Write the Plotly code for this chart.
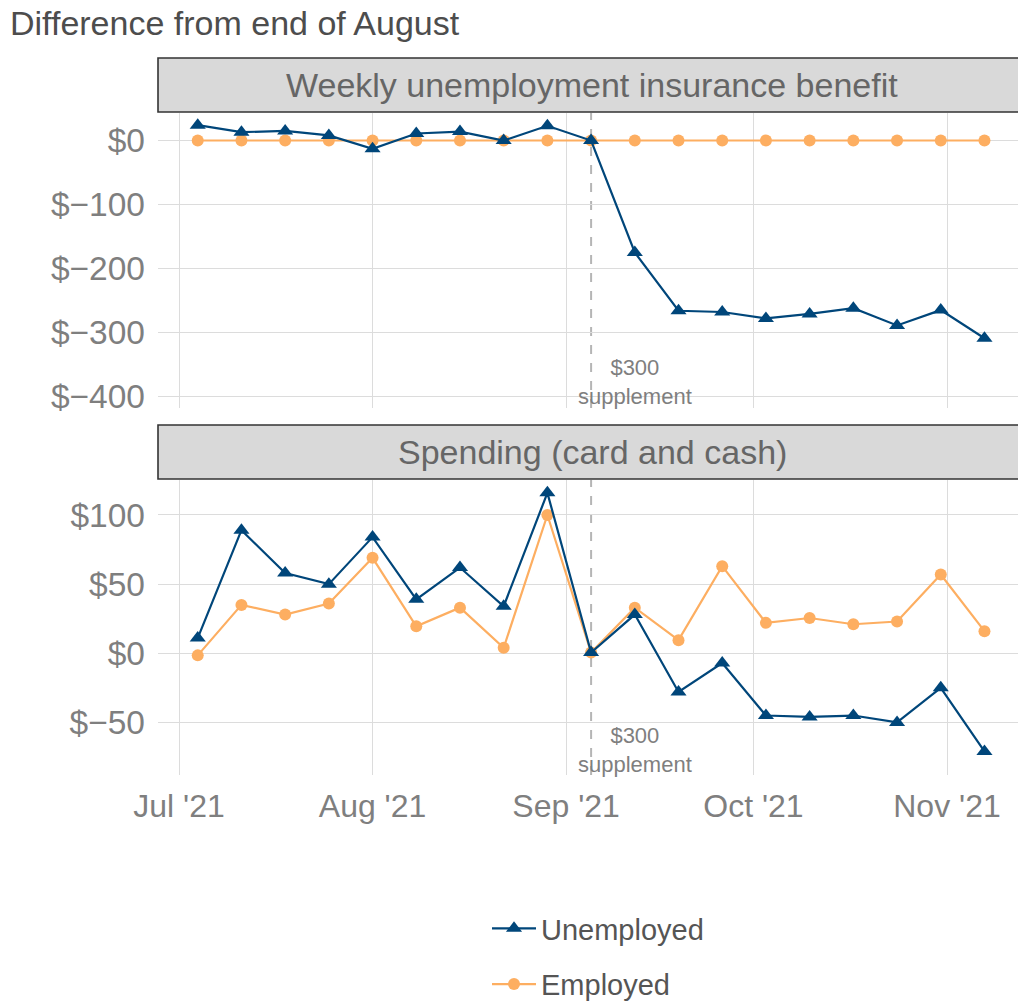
import pandas as pd
import plotly.graph_objects as go

# ---------------- data ----------------
weeks = pd.date_range("2021-07-04", periods=19, freq="7D")

benefit_unemployed = [24, 13, 15, 8, -13, 11, 14, 0, 23, 0,
                      -175, -266, -268, -278, -271, -262, -289, -265, -309]
benefit_employed = [0] * 19

spending_unemployed = [11, 89, 58, 50, 84, 39, 62, 34, 116, 0.5,
                       28, -28, -7, -45, -46, -45, -50, -25, -71]
spending_employed = [-1.5, 35, 28, 36, 69, 19.5, 33, 4, 100, 0.5,
                     33, 9.5, 63, 22, 25.5, 21, 23, 57, 16]

supplement_end = pd.Timestamp("2021-09-05")
panel_titles = ["Weekly unemployment insurance benefit", "Spending (card and cash)"]
series_names = ["Unemployed", "Employed"]

top_ticks = [0, -100, -200, -300, -400]
bottom_ticks = [100, 50, 0, -50]


def dollar(v):
    return "$" + (str(v) if v >= 0 else "\u2212" + str(-v))


# ---------------- style / geometry ----------------
BLUE = "#00467a"
ORANGE = "#fdae61"
FONT = "Liberation Sans, Arial, sans-serif"
GRID = "#dcdcdc"
W, H = 1018, 1002
L = 158                   # left margin
RIGHT_EDGE = 1026         # panel continues slightly past the picture edge
PW = W - L


def px_(x):
    return (x - L) / PW


def py(y):
    return 1 - y / H


fig = go.Figure()

panels = [
    ("y", "x", benefit_unemployed, benefit_employed),
    ("y2", "x2", spending_unemployed, spending_employed),
]
for i, (yax, xax, unemp, emp) in enumerate(panels):
    fig.add_trace(go.Scatter(
        x=weeks, y=emp, name=series_names[1], mode="lines+markers",
        line=dict(color=ORANGE, width=2.2),
        marker=dict(symbol="circle", size=12, color=ORANGE),
        xaxis=xax, yaxis=yax,
        legendgroup="emp", showlegend=(i == 0), legendrank=2))
    fig.add_trace(go.Scatter(
        x=weeks, y=unemp, name=series_names[0], mode="lines+markers",
        line=dict(color=BLUE, width=2.2),
        marker=dict(symbol="triangle-up", size=14, color=BLUE),
        xaxis=xax, yaxis=yax,
        legendgroup="unemp", showlegend=(i == 0), legendrank=1))

px_per_day = (947 - 179) / 123.0
x0 = pd.Timestamp("2021-07-01") - pd.Timedelta(days=(179 - L) / px_per_day)
x1 = x0 + pd.Timedelta(days=PW / px_per_day)

xcommon = dict(
    range=[x0, x1], type="date", tick0="2021-07-01", dtick="M1",
    tickformat="%b '%y", showgrid=True, gridcolor=GRID, gridwidth=1,
    zeroline=False, showline=False, ticks="", domain=[0, 1],
    tickfont=dict(family=FONT, size=32, color="#7f7f7f"),
)
ycommon = dict(showgrid=True, gridcolor=GRID, zeroline=False, showline=False,
               ticklabelstandoff=12, ticks="",
               tickfont=dict(family=FONT, size=33.5, color="#7f7f7f"))

fig.update_layout(
    width=W, height=H,
    margin=dict(l=L, r=0, t=0, b=0, autoexpand=False),
    paper_bgcolor="white", plot_bgcolor="white",
    font=dict(family=FONT),
    title=dict(text="Difference from end of August", x=10 / W, y=1 - 23 / H,
               xanchor="left", yanchor="middle", xref="container", yref="container",
               font=dict(family=FONT, size=34, color="#4d4d4d")),
    xaxis=dict(**xcommon, anchor="y", showticklabels=False, matches="x2"),
    xaxis2=dict(**xcommon, anchor="y2", ticklabelstandoff=9),
    yaxis=dict(**ycommon, domain=[py(408), py(113)], range=[-418, 43],
               tickvals=top_ticks, ticktext=[dollar(v) for v in top_ticks]),
    yaxis2=dict(**ycommon, domain=[py(775), py(480)], range=[-88, 125.3],
                tickvals=bottom_ticks, ticktext=[dollar(v) for v in bottom_ticks]),
    legend=dict(orientation="v", x=px_(493 - 6), xanchor="left",
                y=py(903), yanchor="top", tracegroupgap=15, itemwidth=44,
                font=dict(family=FONT, size=29, color="#555555"),
                bgcolor="rgba(0,0,0,0)", traceorder="grouped"),
    showlegend=True,
)

# strips
strips = [(58, 112), (425, 479)]
for (t, b), title in zip(strips, panel_titles):
    fig.add_shape(type="rect", xref="paper", yref="paper",
                  x0=0, x1=px_(RIGHT_EDGE), y0=py(b), y1=py(t),
                  fillcolor="#d9d9d9", line=dict(color="#333333", width=1.6), layer="above")
    fig.add_annotation(text=title, xref="paper", yref="paper",
                       x=px_(592), y=py((t + b) / 2),
                       xanchor="center", yanchor="middle", showarrow=False,
                       font=dict(family=FONT, size=34, color="#666666"))

# supplement line + labels
for yref, ylab in [("y", -377), ("y2", -70)]:
    fig.add_shape(type="line", xref="x", yref=yref + " domain",
                  x0=supplement_end, x1=supplement_end, y0=0, y1=1,
                  line=dict(color="#b5b5b5", width=2, dash="dash"), layer="below")
    fig.add_annotation(text="$300<br>supplement", xref="x", yref=yref,
                       x=supplement_end + pd.Timedelta(days=7), y=ylab,
                       xanchor="center", yanchor="middle", showarrow=False,
                       font=dict(family=FONT, size=22, color="#7f7f7f"))

fig.write_html("out.html", config={"displayModeBar": False},
               post_script="document.body.style.margin='0';document.body.style.overflow='hidden';")
